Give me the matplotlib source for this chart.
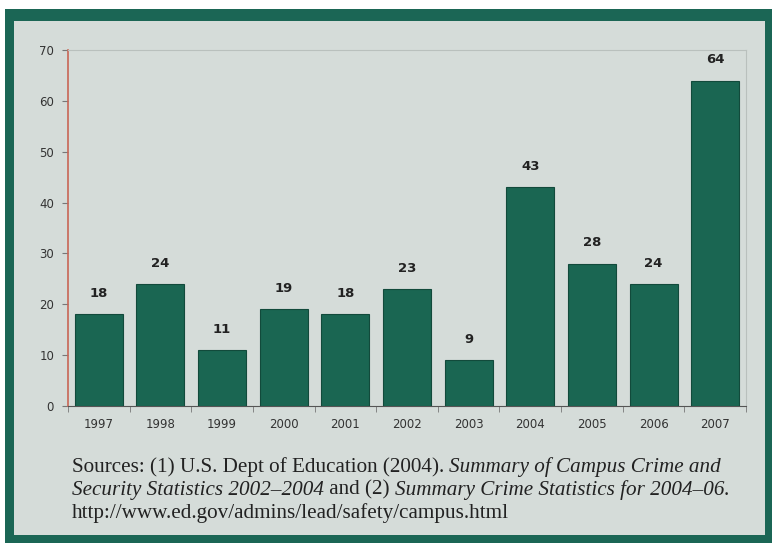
import matplotlib
matplotlib.use("Agg")
import matplotlib.pyplot as plt
from matplotlib.patches import Rectangle
import numpy as np

years = ["1997", "1998", "1999", "2000", "2001", "2002", "2003", "2004", "2005", "2006", "2007"]
counts = [18, 24, 11, 19, 18, 23, 9, 43, 28, 24, 64]

BAR = "#1a6652"
FRAME = "#1b6655"
BG = "#d5dcd9"

W, H = 772, 543
fig = plt.figure(figsize=(W / 100, H / 100), dpi=100, facecolor="white")

# green frame and panel
fig.patches.append(Rectangle((5 / W, 0), 1, 1 - 9 / H, transform=fig.transFigure,
                             facecolor=FRAME, edgecolor="none", zorder=-2))
fig.patches.append(Rectangle((14 / W, 1 - 535 / H), (765 - 14) / W, (535 - 21) / H,
                             transform=fig.transFigure, facecolor=BG, edgecolor="none", zorder=-1))

ax = fig.add_axes([68 / W, 1 - 406 / H, (746 - 68) / W, (406 - 50) / H])
ax.set_zorder(2)
ax.set_facecolor(BG)
x = np.arange(len(years))
ax.bar(x, counts, width=0.78, color=BAR, edgecolor="#124a3b", linewidth=0.8, zorder=3)
for xi, v in zip(x, counts):
    ax.text(xi, v + 2.8, str(v), ha="center", va="bottom", fontsize=9.5,
            fontweight="bold", color="#222222")

ax.set_xlim(-0.5, len(years) - 0.5)
ax.set_ylim(0, 70)
ax.set_yticks(range(0, 71, 10))
ax.set_xticks(x)
ax.set_xticklabels(years)
ax.set_xticks(np.arange(-0.5, len(years)), minor=True)
ax.tick_params(axis="x", which="major", length=0, pad=9, labelsize=8.5, labelcolor="#333333")
ax.tick_params(axis="x", which="minor", length=4, color="#777777", direction="out")
ax.tick_params(axis="y", length=4, color="#777777", labelsize=8.5, labelcolor="#333333", pad=6)

ax.spines["left"].set_color("#c86656")
ax.spines["left"].set_linewidth(1.2)
ax.spines["bottom"].set_color("#555555")
ax.spines["top"].set_color("#b9c0bd")
ax.spines["right"].set_color("#b9c0bd")
ax.spines["top"].set_linewidth(0.8)
ax.spines["right"].set_linewidth(0.8)

# source note with mixed italic runs
lines = [
    [("Sources: (1) U.S. Dept of Education (2004). ", "normal"),
     ("Summary of Campus Crime and", "italic")],
    [("Security Statistics 2002\u20132004", "italic"), (" and (2) ", "normal"),
     ("Summary Crime Statistics for 2004\u201306.", "italic")],
    [("http://www.ed.gov/admins/lead/safety/campus.html", "normal")],
]
renderer = fig.canvas.get_renderer()
y0 = 467
for i, runs in enumerate(lines):
    xpx = 72
    ypx = y0 + i * 23
    for s, style in runs:
        t = fig.text(xpx / W, 1 - ypx / H, s, fontsize=15.2, family="Liberation Serif",
                     style=style, color="#222222", va="center", ha="left")
        bb = t.get_window_extent(renderer=renderer)
        xpx += bb.width

fig.savefig("out.png", dpi=100, facecolor="white")
